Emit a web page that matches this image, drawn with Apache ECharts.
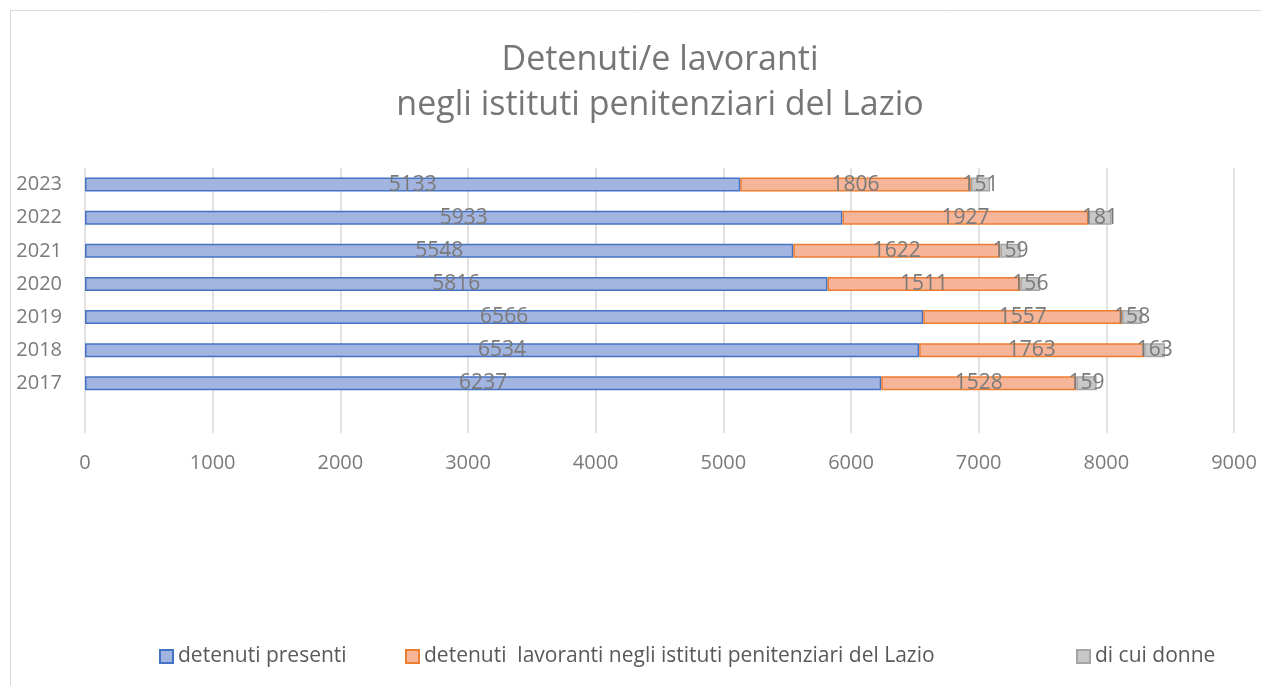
<!DOCTYPE html>
<html>
<head>
<meta charset="utf-8">
<title>Detenuti/e lavoranti</title>
<script src="https://cdn.jsdelivr.net/npm/echarts@6/dist/echarts.min.js"></script>
<style>
  html, body { margin: 0; padding: 0; background: #fff; }
  #chart { width: 1261px; height: 686px; }
</style>
</head>
<body>
<div id="chart"></div>
<script>
// dati
var anni = ["", "2017", "2018", "2019", "2020", "2021", "2022", "2023"];
var detenutiPresenti = ["-", 6237, 6534, 6566, 5816, 5548, 5933, 5133];
var detenutiLavoranti = ["-", 1528, 1763, 1557, 1511, 1622, 1927, 1806];
var diCuiDonne = ["-", 159, 163, 158, 156, 159, 181, 151];
var nomiSerie = [
  "detenuti presenti",
  "detenuti  lavoranti negli istituti penitenziari del Lazio",
  "di cui donne"
];
var tickX = [0, 1000, 2000, 3000, 4000, 5000, 6000, 7000, 8000, 9000];

var font = "'Open Sans', 'Noto Sans', sans-serif";
var grigio = "#7a7a7a";

var chartDom = document.getElementById("chart");
var myChart = echarts.init(chartDom);

const makeSerie = (name, data, fill, border) => {
  return {
    name: name,
    type: "bar",
    stack: "tot",
    barWidth: 14,
    data: data,
    itemStyle: { color: fill, borderColor: border, borderWidth: 1.5 },
    label: {
      show: true,
      position: "inside",
      color: grigio,
      fontSize: 21,
      fontFamily: font,
    },
    emphasis: { disabled: true },
  };
};

const makeLegend = (left, name) => {
  return {
    left: left,
    top: 646,
    padding: 0,
    data: [name],
    icon: "rect",
    itemWidth: 13,
    itemHeight: 13,
    textStyle: { color: "#595959", fontSize: 21, fontFamily: font },
    selectedMode: false,
  };
};

var option = {
  animation: false,
  title: {
    text: "Detenuti/e lavoranti\nnegli istituti penitenziari del Lazio",
    left: 660,
    top: 38,
    padding: 0,
    textAlign: "center",
    textStyle: {
      color: "#767676",
      fontSize: 34,
      fontWeight: "normal",
      fontFamily: font,
      lineHeight: 45,
    },
  },
  graphic: [
    {
      type: "polyline",
      shape: { points: [[10.5, 686], [10.5, 10.5], [1261, 10.5]] },
      style: { stroke: "#d9d9d9", lineWidth: 1, fill: null },
      silent: true,
    },
  ],
  legend: [
    makeLegend(159, nomiSerie[0]),
    makeLegend(405, nomiSerie[1]),
    makeLegend(1076, nomiSerie[2]),
  ],
  grid: { left: 85, right: 27, top: 168, bottom: 253 },
  xAxis: {
    type: "value",
    min: tickX[0],
    max: tickX[tickX.length - 1],
    interval: 1000,
    axisLine: { show: false },
    axisTick: { show: false },
    splitLine: { lineStyle: { color: "#d9d9d9", width: 1.5 } },
    axisLabel: {
      color: grigio,
      fontSize: 20,
      fontFamily: font,
      margin: 20,
      formatter: (v) => String(v),
    },
  },
  yAxis: {
    type: "category",
    data: anni,
    axisLine: { show: false },
    axisTick: { show: false },
    axisLabel: { color: grigio, fontSize: 20, fontFamily: font, margin: 23 },
  },
  series: [
    makeSerie(nomiSerie[0], detenutiPresenti, "#a2b4e0", "#4472c4"),
    makeSerie(nomiSerie[1], detenutiLavoranti, "#f6b599", "#ed7d31"),
    makeSerie(nomiSerie[2], diCuiDonne, "#c8c8c8", "#a5a5a5"),
  ],
};

option && myChart.setOption(option);
</script>
</body>
</html>
